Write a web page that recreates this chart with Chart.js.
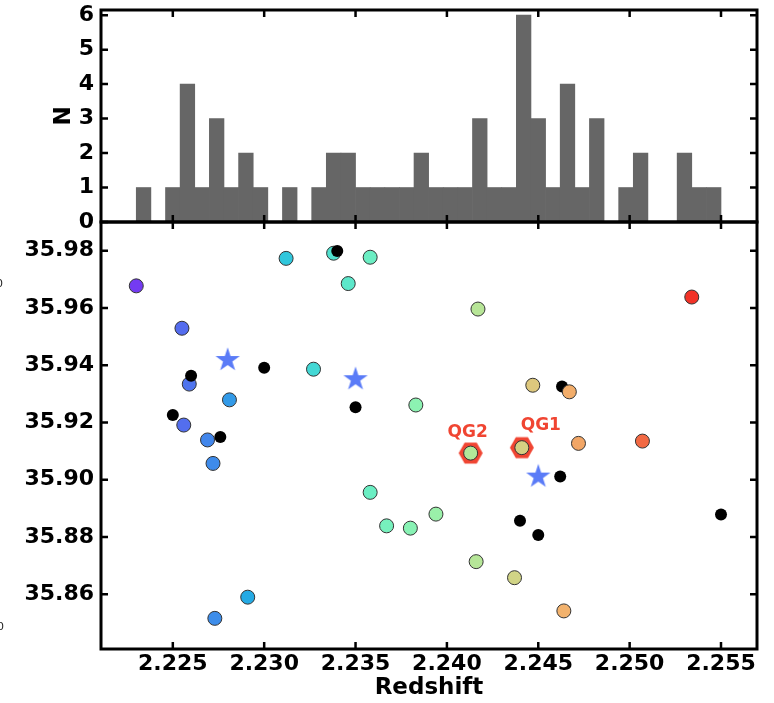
<!DOCTYPE html>
<html>
<head>
<meta charset="utf-8">
<script src="https://cdn.jsdelivr.net/npm/chart.js@4.4.0/dist/chart.umd.min.js"></script>
<style>
  body { margin: 0; background: #fff; }
  #wrap { position: relative; width: 774px; height: 703px; overflow: hidden; font-family: "DejaVu Sans", sans-serif; }
  canvas { position: absolute; left: 0; top: 0; }
  .cut { position: absolute; font-size: 11px; color: #222; }
</style>
</head>
<body>
<div id="wrap">
  <canvas id="histCanvas" width="774" height="230"></canvas>
  <canvas id="scatterCanvas" width="774" height="703"></canvas>
  <span class="cut" style="left:-4px; top:277px;">0</span>
  <span class="cut" style="left:-3px; top:620px;">0</span>
</div>
<script>
// axis limits and ticks (shared redshift axis)
const zRange = [2.22107, 2.25697];
const decRange = [35.8409, 35.9900];
const nRange = [0, 6.15];
const zTicks = [2.225, 2.230, 2.235, 2.240, 2.245, 2.250, 2.255];
const decTicks = [35.86, 35.88, 35.90, 35.92, 35.94, 35.96, 35.98];
const nTicks = [0, 1, 2, 3, 4, 5, 6];

// histogram of redshifts, 40 bins of 0.0008 starting at 2.2230
const binStart = 2.2230;
const binWidth = 0.0008;
const binCounts = [
  1, 0, 1, 4, 1, 3, 1, 2, 1, 0,
  1, 0, 1, 2, 2, 1, 1, 1, 1, 2,
  1, 1, 1, 3, 1, 1, 6, 3, 1, 4,
  1, 3, 0, 1, 2, 0, 0, 2, 1, 1
];

// spectroscopic members, coloured by redshift
const memberZ = [
  2.2230, 2.2255, 2.2259, 2.2256, 2.2269, 2.2281, 2.2272, 2.2273, 2.2291, 2.2312,
  2.2327, 2.2338, 2.2346, 2.2358, 2.2383, 2.2358, 2.2367, 2.2380, 2.2394, 2.2417,
  2.2416, 2.2437, 2.2447, 2.2467, 2.2472, 2.2464, 2.2507, 2.2534
];
const memberDec = [
  35.9677, 35.9529, 35.9334, 35.9191, 35.9139, 35.9279, 35.9057, 35.8516, 35.8590, 35.9773,
  35.9386, 35.9791, 35.9685, 35.9777, 35.9261, 35.8956, 35.8839, 35.8831, 35.8880, 35.9596,
  35.8714, 35.8658, 35.9330, 35.9307, 35.9127, 35.8542, 35.9135, 35.9638
];

// other sources (black dots); the first group sits behind the members
const otherBackZ = [2.2463];
const otherBackDec = [35.9326];
const otherZ = [2.2340, 2.2260, 2.2250, 2.2276, 2.2300, 2.2350, 2.2462, 2.2440, 2.2450, 2.2550];
const otherDec = [35.9799, 35.9363, 35.9226, 35.9149, 35.9391, 35.9253, 35.9011, 35.8857, 35.8807, 35.8879];

// star symbols
const starZ = [2.2280, 2.2350, 2.2450];
const starDec = [35.9418, 35.9351, 35.9011];

// quiescent galaxies
const qgNames = ['QG2', 'QG1'];
const qgZ = [2.2413, 2.2441];
const qgDec = [35.9093, 35.9112];
const qgLabelOffset = [[-3, -21], [19, -22]];

const qgRed = '#f04532';
const fontFamily = '"DejaVu Sans", sans-serif';

// matplotlib 'rainbow' colormap, slightly washed out
const rainbow = (t) => {
  t = Math.max(0, Math.min(1, t));
  const rgb = [
    Math.min(1, Math.abs(2 * t - 0.5)),
    Math.sin(Math.PI * t),
    Math.abs(Math.cos(Math.PI * t / 2))
  ].map(c => Math.round((c * 0.88 + 0.12) * 0.95 * 255));
  return `rgb(${rgb[0]}, ${rgb[1]}, ${rgb[2]})`;
};
const zColor = (z) => rainbow((z - 2.2215) / (2.2545 - 2.2215));

const toPoints = (xs, ys) => xs.map((x, i) => ({ x: x, y: ys[i] }));

// small canvases used as point markers
const makeStar = (color, R) => {
  const c = document.createElement('canvas');
  const s = Math.ceil(R * 2 + 4);
  c.width = s; c.height = s;
  const g = c.getContext('2d');
  g.translate(s / 2, s / 2);
  g.beginPath();
  for (let i = 0; i < 10; i++) {
    const rad = i % 2 === 0 ? R : R * 0.382;
    const a = -Math.PI / 2 + i * Math.PI / 5;
    g.lineTo(rad * Math.cos(a), rad * Math.sin(a));
  }
  g.closePath();
  g.fillStyle = color;
  g.fill();
  return c;
};

const makeHexagon = (color, R) => {
  const c = document.createElement('canvas');
  const s = Math.ceil(R * 2 + 4);
  c.width = s; c.height = s;
  const g = c.getContext('2d');
  g.translate(s / 2, s / 2);
  g.beginPath();
  for (let i = 0; i < 6; i++) {
    const a = i * Math.PI / 3;
    g.lineTo(R * Math.cos(a), R * Math.sin(a));
  }
  g.closePath();
  g.fillStyle = color;
  g.fill();
  return c;
};

// boxed axes with inward ticks on all four sides
const framePlugin = {
  id: 'frame',
  afterDraw(chart) {
    const { ctx, chartArea: a, scales } = chart;
    const len = 7;
    ctx.save();
    ctx.strokeStyle = '#000';
    ctx.lineWidth = 2.5;
    ctx.beginPath();
    scales.x.ticks.forEach(t => {
      const px = scales.x.getPixelForValue(t.value);
      ctx.moveTo(px, a.top); ctx.lineTo(px, a.top + len);
      ctx.moveTo(px, a.bottom); ctx.lineTo(px, a.bottom - len);
    });
    scales.y.ticks.forEach(t => {
      const py = scales.y.getPixelForValue(t.value);
      ctx.moveTo(a.left, py); ctx.lineTo(a.left + len, py);
      ctx.moveTo(a.right, py); ctx.lineTo(a.right - len, py);
    });
    ctx.stroke();
    ctx.lineWidth = 3;
    ctx.strokeRect(a.left, a.top, a.right - a.left, a.bottom - a.top);
    ctx.restore();
  }
};

// QG names above the hexagons
const qgLabelPlugin = {
  id: 'qgLabels',
  afterDatasetsDraw(chart) {
    const { ctx, scales } = chart;
    ctx.save();
    ctx.font = `bold 17px ${fontFamily}`;
    ctx.fillStyle = qgRed;
    ctx.textAlign = 'center';
    ctx.textBaseline = 'middle';
    qgNames.forEach((name, i) => {
      const px = scales.x.getPixelForValue(qgZ[i]) + qgLabelOffset[i][0];
      const py = scales.y.getPixelForValue(qgDec[i]) + qgLabelOffset[i][1];
      ctx.fillText(name, px, py);
    });
    ctx.restore();
  }
};

const tickFont = { family: fontFamily, size: 22, weight: 'bold' };
const titleFont = { family: fontFamily, size: 23, weight: 'bold' };

const setTicks = (values) => (scale) => {
  scale.ticks = values.map(v => ({ value: v }));
};

// fixed axis box size, no extra room for overhanging labels
const fixBox = (size) => (s) => {
  if (s.isHorizontal()) s.height = size; else s.width = size;
  s.paddingTop = 0; s.paddingBottom = 0;
  s.paddingLeft = 0; s.paddingRight = 0;
};

// ---- top panel: histogram ----
const histData = binCounts.map((n, i) => ({ x: binStart + binWidth * (i + 0.5), y: n }));

new Chart(document.getElementById('histCanvas'), {
  type: 'bar',
  data: {
    datasets: [{
      data: histData,
      backgroundColor: '#666666',
      borderWidth: 0,
      barPercentage: 1,
      categoryPercentage: 1
    }]
  },
  options: {
    responsive: false,
    animation: false,
    devicePixelRatio: 1,
    layout: { padding: { top: 10, right: 17, bottom: 8, left: 0 } },
    plugins: { legend: { display: false }, tooltip: { enabled: false } },
    scales: {
      x: {
        type: 'linear',
        offset: false,
        min: zRange[0],
        max: zRange[1],
        afterBuildTicks: setTicks(zTicks),
        ticks: { display: false },
        grid: { display: false, offset: false },
        border: { display: false },
        afterFit: fixBox(0)
      },
      y: {
        min: nRange[0],
        max: nRange[1],
        afterBuildTicks: setTicks(nTicks),
        ticks: { font: tickFont, color: '#000', padding: 7, callback: (v) => String(v) },
        grid: { display: false, drawTicks: false },
        border: { display: false },
        title: { display: true, text: 'N', font: titleFont, color: '#000', padding: { top: 50, bottom: 0 } },
        afterFit: fixBox(101)
      }
    }
  },
  plugins: [framePlugin]
});

// ---- bottom panel: declination vs redshift ----
const qgHexagons = qgZ.map(() => makeHexagon(qgRed, 12));
const starMarker = makeStar('#5a7bf7', 12.8);

new Chart(document.getElementById('scatterCanvas'), {
  type: 'scatter',
  data: {
    datasets: [
      {
        data: toPoints(starZ, starDec),
        pointStyle: starMarker,
        order: 1
      },
      {
        data: toPoints(otherZ, otherDec),
        backgroundColor: '#000',
        borderWidth: 0,
        pointRadius: 6,
        order: 2
      },
      {
        data: toPoints(qgZ, qgDec),
        backgroundColor: qgZ.map(zColor),
        borderColor: '#333',
        borderWidth: 1,
        pointRadius: 7,
        order: 3
      },
      {
        data: toPoints(memberZ, memberDec),
        backgroundColor: memberZ.map(zColor),
        borderColor: '#333',
        borderWidth: 1,
        pointRadius: 7,
        order: 4
      },
      {
        data: toPoints(otherBackZ, otherBackDec),
        backgroundColor: '#000',
        borderWidth: 0,
        pointRadius: 6,
        order: 5
      },
      {
        data: toPoints(qgZ, qgDec),
        pointStyle: qgHexagons,
        order: 6
      }
    ]
  },
  options: {
    responsive: false,
    animation: false,
    devicePixelRatio: 1,
    layout: { padding: { top: 222, right: 17, bottom: 0, left: 0 } },
    plugins: { legend: { display: false }, tooltip: { enabled: false } },
    scales: {
      x: {
        type: 'linear',
        min: zRange[0],
        max: zRange[1],
        afterBuildTicks: setTicks(zTicks),
        ticks: { font: tickFont, color: '#000', padding: 2, maxRotation: 0, callback: (v) => v.toFixed(3) },
        grid: { display: false, drawTicks: false },
        border: { display: false },
        title: { display: true, text: 'Redshift', font: titleFont, color: '#000', padding: { top: 0, bottom: 1 } },
        afterFit: fixBox(54)
      },
      y: {
        min: decRange[0],
        max: decRange[1],
        afterBuildTicks: setTicks(decTicks),
        ticks: { font: tickFont, color: '#000', padding: 7, callback: (v) => v.toFixed(2) },
        grid: { display: false, drawTicks: false },
        border: { display: false },
        afterFit: fixBox(101)
      }
    }
  },
  plugins: [framePlugin, qgLabelPlugin]
});
</script>
</body>
</html>
